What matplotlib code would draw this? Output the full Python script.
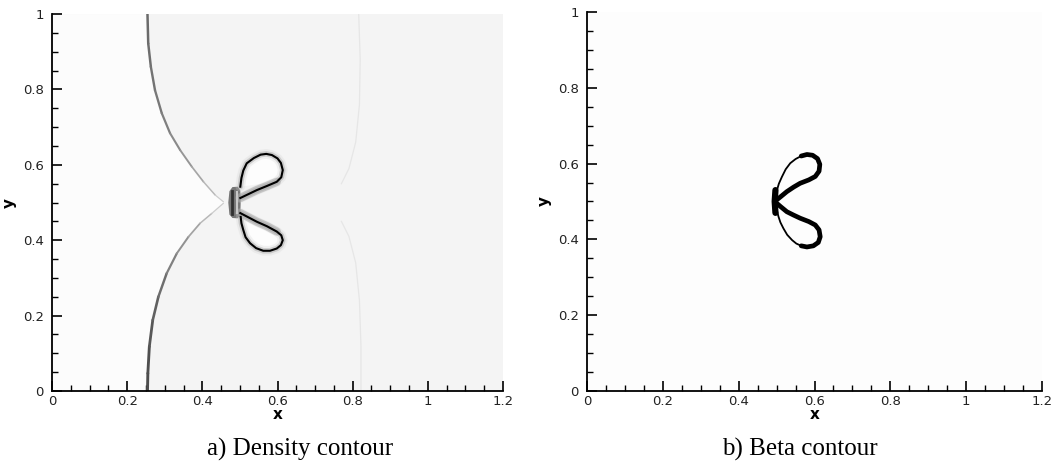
import numpy as np
import matplotlib
matplotlib.use("Agg")
import matplotlib.pyplot as plt
from matplotlib.collections import LineCollection

plt.rcParams['font.family'] = ['DejaVu Sans']

# shock front, top branch then bottom branch
shock_up_x = [0.254, 0.256, 0.263, 0.274, 0.292, 0.314, 0.341, 0.372, 0.403, 0.434, 0.456]
shock_up_y = [1.000, 0.922, 0.860, 0.798, 0.737, 0.684, 0.639, 0.595, 0.555, 0.520, 0.502]
shock_up_gray = [0.42, 0.43, 0.45, 0.47, 0.50, 0.54, 0.59, 0.65, 0.72, 0.80, 0.86]
shock_lo_x = [0.254, 0.255, 0.259, 0.268, 0.283, 0.305, 0.332, 0.363, 0.394, 0.425, 0.456]
shock_lo_y = [0.000, 0.047, 0.118, 0.188, 0.250, 0.312, 0.365, 0.409, 0.445, 0.471, 0.498]
shock_lo_gray = [0.30, 0.31, 0.34, 0.38, 0.43, 0.50, 0.57, 0.64, 0.72, 0.80, 0.86]

# faint reflected wave near x=0.82
wave_up_x = [0.816, 0.820, 0.818, 0.808, 0.790, 0.770]
wave_up_y = [1.000, 0.880, 0.760, 0.660, 0.590, 0.550]
wave_lo_x = [0.822, 0.822, 0.818, 0.808, 0.790, 0.770]
wave_lo_y = [0.000, 0.120, 0.240, 0.340, 0.410, 0.450]

# density contour of the bubble (panel a)
dens_up_x = [0.501, 0.522, 0.545, 0.572, 0.598, 0.610, 0.614, 0.609, 0.600, 0.585, 0.570, 0.555, 0.537, 0.518, 0.509, 0.504, 0.501]
dens_up_y = [0.512, 0.522, 0.533, 0.544, 0.555, 0.567, 0.586, 0.605, 0.617, 0.626, 0.629, 0.627, 0.618, 0.604, 0.585, 0.565, 0.542]
dens_lo_x = [0.501, 0.522, 0.545, 0.572, 0.598, 0.610, 0.614, 0.609, 0.598, 0.580, 0.562, 0.543, 0.527, 0.515, 0.509, 0.504, 0.502]
dens_lo_y = [0.472, 0.461, 0.449, 0.437, 0.423, 0.413, 0.400, 0.387, 0.378, 0.372, 0.372, 0.379, 0.392, 0.408, 0.427, 0.445, 0.462]

# dark blob at the upstream side of the bubble
blob_x = [0.472, 0.469, 0.472, 0.480, 0.494, 0.501, 0.502, 0.501, 0.494, 0.480]
blob_y = [0.530, 0.500, 0.468, 0.459, 0.458, 0.468, 0.500, 0.532, 0.542, 0.541]

# beta contour (panel b): thick inner stroke and thin outer stroke
beta_up_thick_x = [0.495, 0.510, 0.527, 0.545, 0.562, 0.585, 0.602, 0.612, 0.614, 0.608, 0.595, 0.580, 0.565]
beta_up_thick_y = [0.500, 0.512, 0.526, 0.538, 0.548, 0.557, 0.566, 0.580, 0.598, 0.613, 0.622, 0.624, 0.620]
beta_up_thin_x = [0.565, 0.550, 0.536, 0.524, 0.514, 0.506, 0.501, 0.498]
beta_up_thin_y = [0.620, 0.612, 0.601, 0.585, 0.565, 0.547, 0.530, 0.515]
beta_lo_thick_x = [0.495, 0.510, 0.527, 0.545, 0.562, 0.585, 0.602, 0.612, 0.615, 0.610, 0.597, 0.580, 0.565]
beta_lo_thick_y = [0.500, 0.487, 0.473, 0.464, 0.456, 0.447, 0.438, 0.425, 0.407, 0.392, 0.383, 0.380, 0.383]
beta_lo_thin_x = [0.565, 0.552, 0.541, 0.528, 0.518, 0.510, 0.505, 0.500]
beta_lo_thin_y = [0.383, 0.389, 0.398, 0.412, 0.429, 0.445, 0.460, 0.480]
beta_blob_x = [0.497, 0.495, 0.497]
beta_blob_y = [0.470, 0.500, 0.530]

xticks = [0, 0.2, 0.4, 0.6, 0.8, 1, 1.2]
xticklabels = ['0', '0.2', '0.4', '0.6', '0.8', '1', '1.2']
yticks = [0, 0.2, 0.4, 0.6, 0.8, 1]
yticklabels = ['0', '0.2', '0.4', '0.6', '0.8', '1']
captions = ['a) Density contour', 'b) Beta contour']


def style_axes(ax):
    ax.set_xlim(0, 1.2)
    ax.set_ylim(0, 1)
    for s in ['top', 'right']:
        ax.spines[s].set_visible(False)
    for s in ['left', 'bottom']:
        ax.spines[s].set_linewidth(1.3)
    ax.set_xticks(xticks)
    ax.set_xticklabels(xticklabels)
    ax.set_yticks(yticks)
    ax.set_yticklabels(yticklabels)
    ax.set_xticks(np.arange(0, 1.21, 0.05), minor=True)
    ax.set_yticks(np.arange(0, 1.01, 0.05), minor=True)
    ax.tick_params(which='major', direction='in', length=7, width=1.2, labelsize=9.5, labelcolor='#222222')
    ax.tick_params(which='minor', direction='in', length=4, width=1.0)
    ax.tick_params(axis='x', pad=3)
    ax.tick_params(axis='y', pad=6)
    ax.set_xlabel('x', fontweight='bold', fontsize=11, labelpad=-1)
    ax.set_ylabel('y', fontweight='bold', fontsize=11, labelpad=4)


def shock_lines(ax, xs, ys, grays):
    pts = np.column_stack([xs, ys])
    segs = [pts[i:i + 2] for i in range(len(pts) - 1)]
    cols = [str(g) for g in grays[:-1]]
    widths = [2.4 * (1.0 - g) + 0.4 for g in grays[:-1]]
    ax.add_collection(LineCollection(segs, colors=cols, linewidths=widths, capstyle='round', joinstyle='round'))


fig = plt.figure(figsize=(10.55, 4.70), dpi=100)
ax1 = fig.add_axes([0.0493, 0.1681, 0.4275, 0.802])
ax2 = fig.add_axes([0.5564, 0.1681, 0.4313, 0.8064])

# panel a
ax1.set_facecolor('#f4f4f4')
front_x = [0] + shock_lo_x + shock_up_x[::-1] + [0]
front_y = [0] + shock_lo_y + shock_up_y[::-1] + [1]
ax1.fill(front_x, front_y, color='#fcfcfc', lw=0)
ax1.plot(wave_up_x, wave_up_y, color='#e6e6e6', lw=0.9)
ax1.plot(wave_lo_x, wave_lo_y, color='#e6e6e6', lw=0.9)
shock_lines(ax1, shock_up_x, shock_up_y, shock_up_gray)
shock_lines(ax1, shock_lo_x, shock_lo_y, shock_lo_gray)
for lw, c, a in [(7, '#d0d0d0', 0.25), (4, '#909090', 0.35)]:
    ax1.plot(dens_up_x, dens_up_y, color=c, lw=lw, alpha=a, solid_capstyle='round', solid_joinstyle='round')
    ax1.plot(dens_lo_x, dens_lo_y, color=c, lw=lw, alpha=a, solid_capstyle='round', solid_joinstyle='round')
ax1.plot(dens_up_x[:5], dens_up_y[:5], color='#a0a0a0', lw=6, alpha=0.5, solid_capstyle='round')
ax1.plot(dens_lo_x[:5], dens_lo_y[:5], color='#a0a0a0', lw=6, alpha=0.5, solid_capstyle='round')
ax1.fill(dens_up_x[4:], dens_up_y[4:], color='#fdfdfd', lw=0)
ax1.fill(dens_lo_x[4:], dens_lo_y[4:], color='#fdfdfd', lw=0)
ax1.fill(blob_x, blob_y, color='#767676', lw=0)
ax1.plot([0.479, 0.479], [0.470, 0.530], color='#303030', lw=2.0)
ax1.plot([0.491, 0.491], [0.472, 0.528], color='#c8c8c8', lw=1.5)
ax1.plot(dens_up_x, dens_up_y, color='black', lw=1.5, solid_joinstyle='round')
ax1.plot(dens_lo_x, dens_lo_y, color='black', lw=1.5, solid_joinstyle='round')
style_axes(ax1)

# panel b
ax2.set_facecolor('#fdfdfd')
ax2.plot(beta_up_thick_x, beta_up_thick_y, color='black', lw=3.4, solid_capstyle='round', solid_joinstyle='round')
ax2.plot(beta_lo_thick_x, beta_lo_thick_y, color='black', lw=3.4, solid_capstyle='round', solid_joinstyle='round')
ax2.plot(beta_up_thin_x, beta_up_thin_y, color='black', lw=1.3, solid_joinstyle='round')
ax2.plot(beta_lo_thin_x, beta_lo_thin_y, color='black', lw=1.3, solid_joinstyle='round')
ax2.plot(beta_blob_x, beta_blob_y, color='black', lw=4.5, solid_capstyle='round', solid_joinstyle='round')
style_axes(ax2)

fig.text(0.284, 0.043, captions[0], ha='center', va='center', fontsize=18, family='Liberation Serif')
fig.text(0.758, 0.043, captions[1], ha='center', va='center', fontsize=18, family='Liberation Serif')

fig.savefig('out.png', dpi=100, facecolor='white')
